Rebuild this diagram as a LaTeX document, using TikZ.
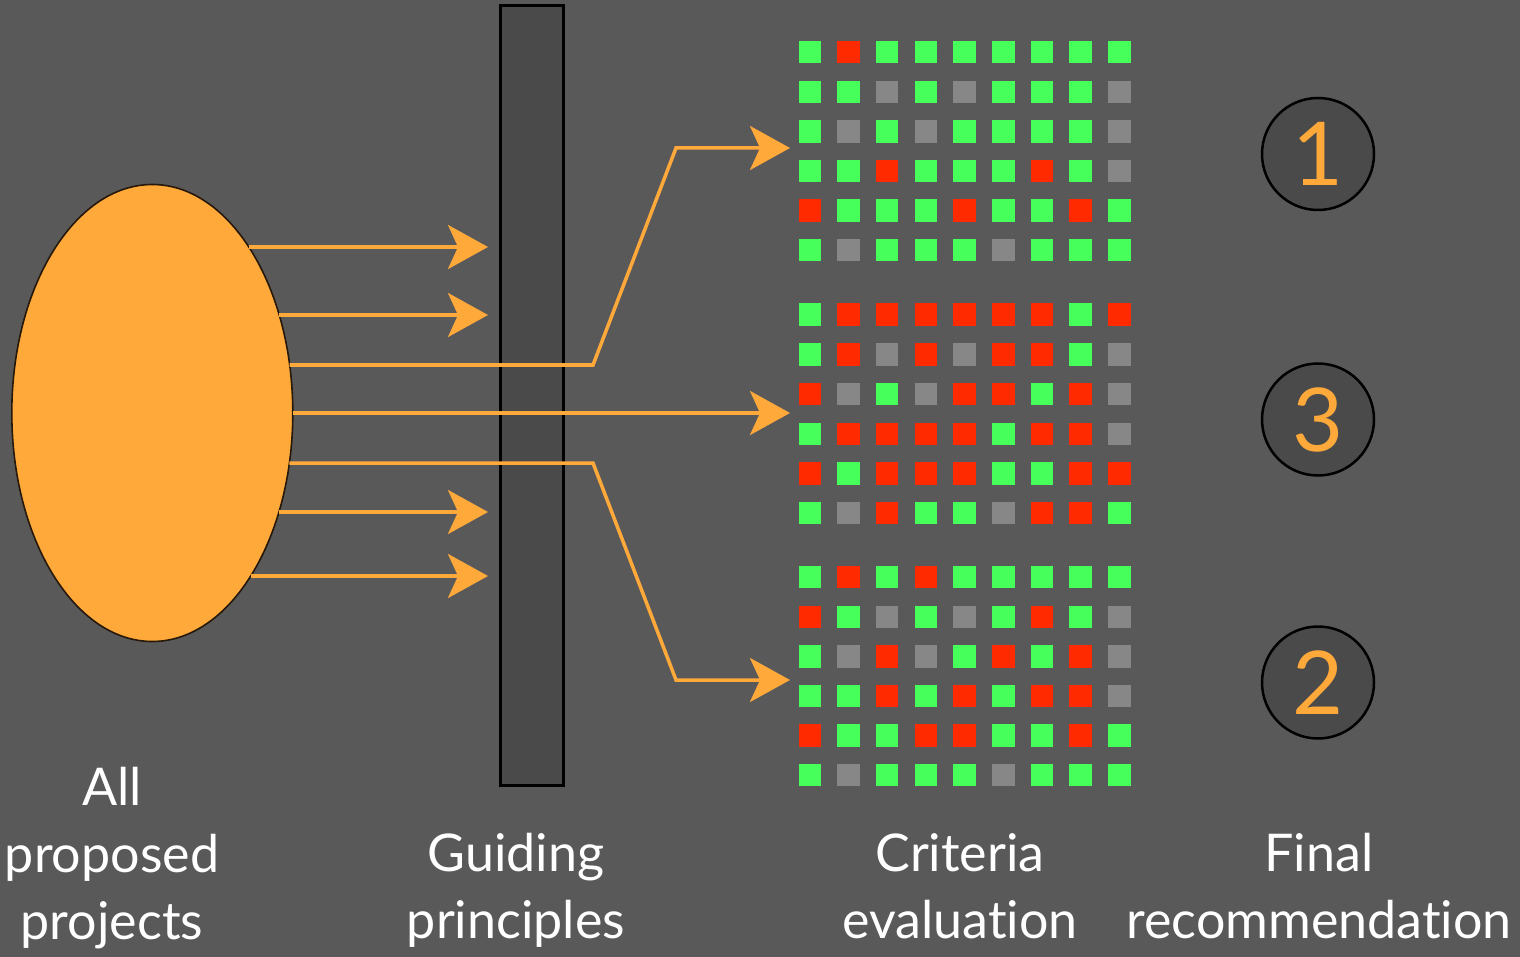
\documentclass[tikz,border=0pt]{standalone}
\usepackage{fontspec}
\setmainfont{Lato}[Ligatures=NoCommon]
\usetikzlibrary{arrows.meta,shapes.geometric}
\definecolor{bg}{HTML}{595959}
\definecolor{orng}{HTML}{FFA93B}
\definecolor{sqgreen}{HTML}{46FF5A}
\definecolor{sqred}{HTML}{FF2A00}
\definecolor{sqgray}{HTML}{878787}
\definecolor{bardark}{HTML}{4A4A4A}
\begin{document}
\begin{tikzpicture}[x=1pt,y=-1pt,
  cell/.style={minimum size=22.5pt, inner sep=0pt, outer sep=0pt},
  cG/.style={cell, fill=sqgreen},
  cR/.style={cell, fill=sqred},
  cY/.style={cell, fill=sqgray},
  flow/.style={draw=orng, line width=3.5pt, -{Stealth[length=40pt,width=44pt,inset=10pt]}},
  lbl/.style={text=white, font=\fontsize{52}{67}\selectfont, align=center, anchor=base, inner sep=0pt},
  rankc/.style={circle, draw=black, line width=2.5pt, fill=bardark, minimum size=112pt, inner sep=0pt, text=orng, font=\fontsize{88}{88}\selectfont}]
\useasboundingbox (0,0) rectangle (1520,957);
\fill[bg] (0,0) rectangle (1520,957);

% guiding principles bar
\node[draw=black, line width=3pt, fill=bardark, minimum width=63pt, minimum height=779pt, inner sep=0pt] (bar) at (531.5,395.5) {};

% pool of projects
\node[ellipse, draw=black!85!orng, line width=1.6pt, fill=orng, minimum width=281pt, minimum height=457pt, inner sep=0pt] (pool) at (152.3,413) {};

% criteria grid
\foreach \r/\yy/\codes in {
  1/52.2/{G,R,G,G,G,G,G,G,G},
  2/91.8/{G,G,Y,G,Y,G,G,G,Y},
  3/131.4/{G,Y,G,Y,G,G,G,G,Y},
  4/171.0/{G,G,R,G,G,G,R,G,Y},
  5/210.6/{R,G,G,G,R,G,G,R,G},
  6/250.2/{G,Y,G,G,G,Y,G,G,G},
  7/314.7/{G,R,R,R,R,R,R,G,R},
  8/354.4/{G,R,Y,R,Y,R,R,G,Y},
  9/394.1/{R,Y,G,Y,R,R,G,R,Y},
  10/433.8/{G,R,R,R,R,G,R,R,Y},
  11/473.5/{R,G,R,R,R,G,G,R,R},
  12/513.2/{G,Y,R,G,G,Y,R,R,G},
  13/577.2/{G,R,G,R,G,G,G,G,G},
  14/616.8/{R,G,Y,G,Y,G,R,G,Y},
  15/656.4/{G,Y,R,Y,G,R,G,R,Y},
  16/696.0/{G,G,R,G,R,G,R,R,Y},
  17/735.6/{R,G,G,R,R,G,G,R,G},
  18/775.2/{G,Y,G,G,G,Y,G,G,G}}{
  \foreach \c [count=\i] in \codes {
    \node[c\c] (q\r-\i) at ({809.8+(\i-1)*38.7},\yy) {};
  }
}

% connector coordinates
\coordinate (s1) at (248.8,247);
\coordinate (s2) at (279.2,315);
\coordinate (s3) at (289.7,365);
\coordinate (s4) at (292.8,413);
\coordinate (s5) at (289.4,463);
\coordinate (s6) at (278.9,512);
\coordinate (s7) at (250.8,576);
\coordinate (t1) at (488,247);
\coordinate (t2) at (488,315);
\coordinate (t6) at (488,512);
\coordinate (t7) at (488,576);
\coordinate (k1) at (593,365);
\coordinate (k2) at (676,148);
\coordinate (k3) at (593,463);
\coordinate (k4) at (676,680);
\coordinate (e1) at (790,148);
\coordinate (e2) at (790,413);
\coordinate (e3) at (790,680);

\draw[flow] (s1) -- (t1);
\draw[flow] (s2) -- (t2);
\draw[flow] (s6) -- (t6);
\draw[flow] (s7) -- (t7);
\draw[flow] (s3) -- (k1) -- (k2) -- (e1);
\draw[flow] (s4) -- (e2);
\draw[flow] (s5) -- (k3) -- (k4) -- (e3);

% final ranking
\node[rankc] (r1) at (1318,154) {1};
\node[rankc] (r3) at (1318,419.5) {3};
\node[rankc] (r2) at (1318,682.5) {2};

% labels (base anchor = baseline of the last line)
\node[lbl] (lab1) at (112,939) {All\\proposed\\projects};
\node[lbl] (lab2) at (516,938) {Guiding\\principles};
\node[lbl] (lab3) at (960,938) {Criteria\\evaluation};
\node[lbl] (lab4) at (1319,938) {Final\\recommendation};
\end{tikzpicture}
\end{document}
